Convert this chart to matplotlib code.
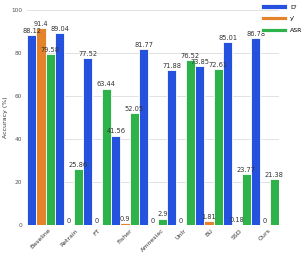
import matplotlib
matplotlib.use("Agg")
import matplotlib.pyplot as plt
import numpy as np

categories = ["Baseline", "Retrain", "FT", "Fisher", "Amnesiac", "Unlr", "BU", "SSD", "Ours"]
d_prime = [88.12, 89.04, 77.52, 41.56, 81.77, 71.88, 73.85, 85.01, 86.78]
y_prime = [91.4, 0, 0, 0.9, 0, 0, 1.81, 0.18, 0]
asr = [79.58, 25.86, 63.44, 52.05, 2.9, 76.52, 72.61, 23.77, 21.38]
series_labels = ["D'", "y'", "ASR"]
yticks = [0, 20, 40, 60, 80, 100]

colors = ["#2451DE", "#E5832A", "#2EB34B"]

fig = plt.figure(figsize=(3.07, 2.57), dpi=100)
ax = fig.add_axes([0.088, 0.1245, 0.821, 0.837])

x = np.arange(len(categories))
w = 1 / 3
handles = []
for i, (vals, c, lab) in enumerate(zip([d_prime, y_prime, asr], colors, series_labels)):
    pos = x + (i - 1) * w
    bars = ax.bar(pos, vals, width=w, color=c, edgecolor="white", linewidth=0.6, label=lab, zorder=3)
    handles.append(bars)
    for p, v in zip(pos, vals):
        txt = f"{v:g}"
        ax.text(p, v + 0.6, txt, ha="center", va="bottom", fontsize=4.8, color="#333333", zorder=4)

ax.set_xlim(-0.5, len(categories) - 0.5)
ax.set_ylim(0, 100)
ax.set_yticks(yticks)
ax.set_yticklabels([str(t) for t in yticks], fontsize=4.2, color="#555555")
ax.set_xticks(x)
ax.set_xticklabels(categories, rotation=45, ha="center", va="top", fontsize=4.5, color="#333333")
ax.tick_params(axis="y", length=0, pad=3.5)
ax.tick_params(axis="x", length=0, pad=2)
ax.grid(axis="y", color="#dddddd", linewidth=0.6, zorder=0)
for s in ax.spines.values():
    s.set_visible(False)
ax.set_ylabel("Accuracy (%)", fontsize=4.5, color="#333333")
ax.yaxis.set_label_coords(-0.075, 0.5)

fig.legend(handles=handles, labels=series_labels, loc="upper right", bbox_to_anchor=(1.0, 1.0),
           fontsize=4.5, frameon=False, handlelength=4.2, handleheight=0.7, labelspacing=1.0,
           handletextpad=0.5, borderaxespad=0.3)

fig.savefig("out.png", dpi=100)
